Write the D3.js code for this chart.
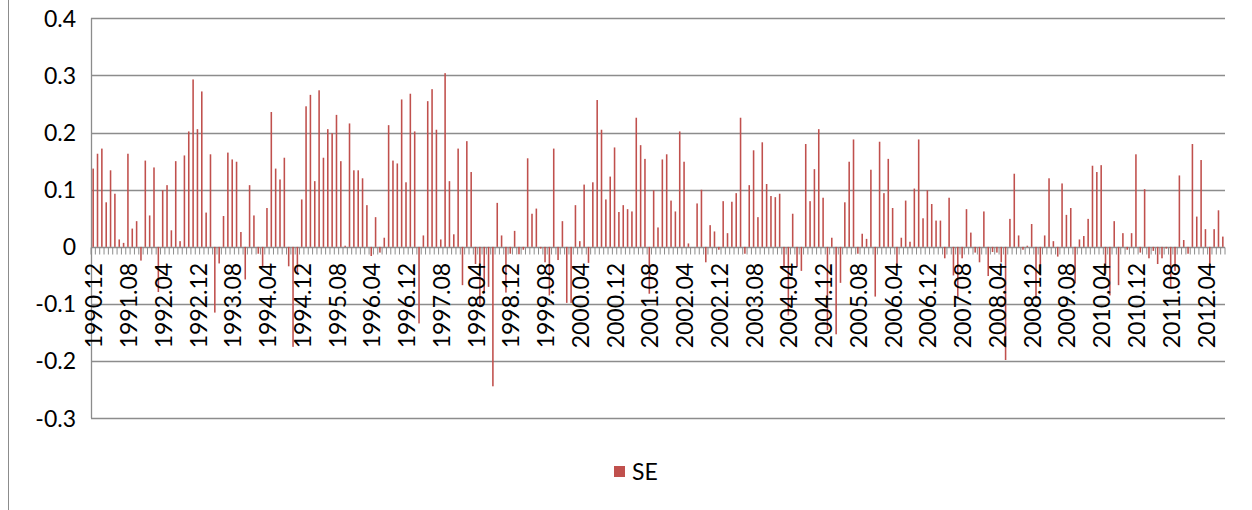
<!DOCTYPE html>
<html><head><meta charset="utf-8">
<script src="https://cdn.jsdelivr.net/npm/d3@7"></script>
<style>body{margin:0;background:#fff}svg{display:block}text{font-family:Lato,"Open Sans",sans-serif;fill:#000}</style>
</head><body><svg id="c" width="1252" height="510"></svg>
<script>
const seriesName = "SE";
const startYear = 1990, startMonth = 12, monthCount = 261;
const seValues = [
 0.137,0.163,0.172,0.078,0.134,0.093,0.013,0.007,0.163,0.032,0.045,-0.024,0.151,0.055,0.139,-0.079,0.099,0.108,0.029,0.150,0.010,
 0.160,0.202,0.293,0.206,0.272,0.060,0.162,-0.115,-0.029,0.054,0.165,0.153,0.149,0.026,-0.057,0.108,0.055,-0.012,-0.034,0.068,0.236,0.137,
 0.118,0.156,-0.034,-0.175,-0.045,0.083,0.246,0.266,0.115,0.274,0.156,0.206,0.199,0.231,0.150,0.002,0.216,0.134,0.134,0.120,0.073,-0.016,
 0.052,-0.010,0.016,0.213,0.151,0.146,0.258,0.113,0.268,0.202,-0.134,0.020,0.255,0.276,0.205,0.013,0.304,0.115,0.022,0.172,-0.067,0.185,
 0.131,-0.030,-0.100,-0.080,-0.070,-0.244,0.077,0.020,-0.080,-0.012,0.028,-0.013,-0.005,0.155,0.058,0.067,-0.003,-0.027,-0.085,0.172,-0.023,0.045,
 -0.098,-0.098,0.073,0.010,0.109,-0.028,0.113,0.257,0.205,0.083,0.123,0.174,0.061,0.073,0.066,0.062,0.226,0.178,0.154,-0.082,0.099,0.034,
 0.153,0.162,0.081,0.062,0.202,0.149,0.006,0.000,0.076,0.100,-0.027,0.038,0.027,-0.005,0.080,0.024,0.079,0.094,0.226,-0.012,0.108,0.169,
 0.052,0.183,0.110,0.089,0.087,0.093,-0.035,-0.120,0.058,-0.035,-0.042,0.180,0.080,0.136,0.206,0.086,-0.146,0.016,-0.153,-0.063,0.078,0.149,
 0.188,-0.012,0.023,0.014,0.135,-0.087,0.184,0.094,0.154,0.068,-0.035,0.016,0.081,0.009,0.102,0.188,0.050,0.099,0.075,0.046,0.046,-0.020,
 0.086,-0.050,-0.090,-0.020,0.066,0.025,-0.010,-0.027,0.062,-0.051,-0.009,-0.010,-0.027,-0.198,0.049,0.128,0.020,-0.005,0.002,0.040,-0.090,-0.050,0.020,
 0.120,0.010,-0.017,0.111,0.056,0.068,-0.064,0.013,0.019,0.049,0.142,0.131,0.143,-0.047,-0.085,0.045,-0.067,0.024,-0.005,0.024,0.162,-0.010,
 0.101,-0.020,-0.007,-0.030,-0.020,-0.003,-0.070,-0.042,0.125,0.012,-0.012,0.180,0.053,0.152,0.031,-0.035,0.031,0.064,0.018
];
const tickLabels = ["1990.12","1991.08","1992.04","1992.12","1993.08","1994.04","1994.12","1995.08","1996.04","1996.12","1997.08","1998.04","1998.12","1999.08","2000.04","2000.12","2001.08","2002.04","2002.12","2003.08","2004.04","2004.12","2005.08","2006.04","2006.12","2007.08","2008.04","2008.12","2009.08","2010.04","2010.12","2011.08","2012.04"];
const yTicks = [0.4,0.3,0.2,0.1,0,-0.1,-0.2,-0.3];
const yTickLabels = ["0.4","0.3","0.2","0.1","0","-0.1","-0.2","-0.3"];

const categories = [];
for (let k = 0; k < monthCount; k++) {
  const m = (startMonth - 1 + k) % 12 + 1;
  const yv = startYear + Math.floor((startMonth - 1 + k) / 12);
  categories.push(yv + "." + String(m).padStart(2, "0"));
}
const data = categories.map((c, i) => ({cat: c, v: seValues[i]}));

const svg = d3.select("#c");
const L = 91, R = 1225, T = 18.3, B = 418.3;
const pad = 0.64;
const x = d3.scaleBand().domain(categories).range([L, R]).paddingInner(pad).paddingOuter(pad / 2);
const y = d3.scaleLinear().domain([-0.3, 0.4]).range([B, T]);
const grid = "#8c8c8c";
const fs = 23;

svg.append("line").attr("x1", 8.5).attr("x2", 8.5).attr("y1", 0).attr("y2", 510).attr("stroke", "#8c8c8c").attr("stroke-width", 1);

svg.append("g").selectAll("line").data(yTicks).join("line")
  .attr("x1", L).attr("x2", R).attr("y1", d => Math.round(y(d)) + 0.5).attr("y2", d => Math.round(y(d)) + 0.5)
  .attr("stroke", grid).attr("stroke-width", 1.3);
svg.append("line").attr("x1", L + 0.5).attr("x2", L + 0.5).attr("y1", T).attr("y2", B).attr("stroke", grid).attr("stroke-width", 1.3);

svg.append("g").selectAll("text").data(yTicks).join("text")
  .attr("x", 76).attr("y", d => y(d)).attr("dy", "0.36em").attr("text-anchor", "end")
  .attr("font-size", fs).text((d, i) => yTickLabels[i]);

svg.append("g").selectAll("rect").data(data).join("rect")
  .attr("x", d => x(d.cat)).attr("width", x.bandwidth())
  .attr("y", d => y(Math.max(0, d.v))).attr("height", d => Math.abs(y(d.v) - y(0)))
  .attr("fill", "#C0504D");

const y0 = Math.round(y(0)) + 0.5;
const bounds = categories.map(c => x(c) - x.step() * pad / 2).concat([R]);
svg.append("g").selectAll("line").data(bounds).join("line")
  .attr("x1", d => d).attr("x2", d => d).attr("y1", y0).attr("y2", y0 + 7)
  .attr("stroke", grid).attr("stroke-width", 1);

svg.append("g").selectAll("text").data(tickLabels).join("text")
  .attr("transform", d => `translate(${x(d) + x.bandwidth() / 2 + 1},${y(0) + 16}) rotate(-90)`)
  .attr("dy", "0.35em").attr("text-anchor", "end").attr("font-size", fs).text(d => d);

const lg = svg.append("g");
lg.append("rect").attr("x", 614).attr("y", 466).attr("width", 11).attr("height", 11).attr("fill", "#C0504D");
lg.append("text").attr("x", 632).attr("y", 472).attr("dy", "0.36em").attr("font-size", fs).text(seriesName);
</script></body></html>
